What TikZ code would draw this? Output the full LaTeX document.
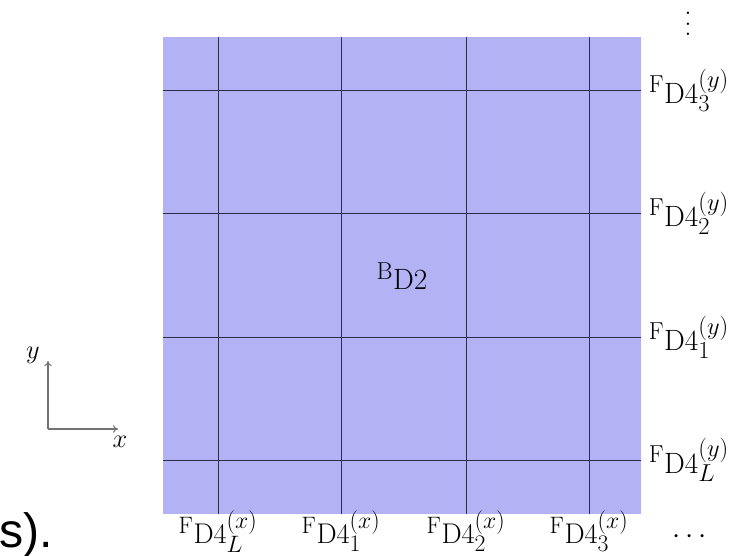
\documentclass[tikz,border=0pt]{standalone}
\usepackage{fontspec}
\newfontfamily\slidefont{Liberation Sans}
\usetikzlibrary{arrows.meta,positioning}
\definecolor{cellblue}{RGB}{178,178,245}
\definecolor{gridink}{RGB}{45,45,80}

\begin{document}
\begin{tikzpicture}[
    x=0.0277cm, y=-0.0277cm,
    facelabel/.style={font=\Huge, inner sep=0pt, scale=0.93, transform shape},
    xfacelabel/.style={facelabel, scale=0.97},
    gridline/.style={draw=gridink, line width=0.6pt},
    axis/.style={draw=black!55, line width=0.8pt, -{To[length=4pt,width=6pt]}}
]
    \useasboundingbox (0,0) rectangle (740,556);

    % block
    \fill[cellblue] (163,37) rectangle (641,514);
    \node[facelabel] (block) at (402,276) {${}^{\mathrm{B}}\mathrm{D}2$};

    % faces in x
    \coordinate (xL) at (218,514);
    \coordinate (x1) at (341,514);
    \coordinate (x2) at (466,514);
    \coordinate (x3) at (589,514);
    \draw[gridline] (xL) -- (218,37);
    \draw[gridline] (x1) -- (341,37);
    \draw[gridline] (x2) -- (466,37);
    \draw[gridline] (x3) -- (589,37);

    % faces in y
    \coordinate (yL) at (641,460);
    \coordinate (y1) at (641,337);
    \coordinate (y2) at (641,213);
    \coordinate (y3) at (641,90);
    \draw[gridline] (163,460) -- (yL);
    \draw[gridline] (163,337) -- (y1);
    \draw[gridline] (163,213) -- (y2);
    \draw[gridline] (163,90) -- (y3);

    \node[xfacelabel, below=-3pt of xL] (fxL) {${}^{\mathrm{F}}\mathrm{D}4^{(x)}_{L}$};
    \node[xfacelabel, below=-3pt of x1] (fx1) {${}^{\mathrm{F}}\mathrm{D}4^{(x)}_{1}$};
    \node[xfacelabel, below=-3pt of x2] (fx2) {${}^{\mathrm{F}}\mathrm{D}4^{(x)}_{2}$};
    \node[xfacelabel, below=-3pt of x3] (fx3) {${}^{\mathrm{F}}\mathrm{D}4^{(x)}_{3}$};
    \node[facelabel] (xmore) at (690,537) {$\cdots$};

    \node[facelabel, right=6pt of yL] (fyL) {${}^{\mathrm{F}}\mathrm{D}4^{(y)}_{L}$};
    \node[facelabel, right=6pt of y1] (fy1) {${}^{\mathrm{F}}\mathrm{D}4^{(y)}_{1}$};
    \node[facelabel, right=6pt of y2] (fy2) {${}^{\mathrm{F}}\mathrm{D}4^{(y)}_{2}$};
    \node[facelabel, right=6pt of y3] (fy3) {${}^{\mathrm{F}}\mathrm{D}4^{(y)}_{3}$};
    \node[facelabel] (ymore) at (688,24)
        {\vbox{\baselineskip=0.36em \lineskiplimit=0pt \hbox{.}\hbox{.}\hbox{.}}};

    % axes
    \coordinate (origin) at (48,429);
    \coordinate (xtip) at (118,429);
    \coordinate (ytip) at (48,361);
    \draw[axis] (origin) -- (xtip);
    \draw[axis] (origin) -- (ytip);
    \node[font=\huge, inner sep=0pt] (xname) at (120,442) {$x$};
    \node[font=\huge, inner sep=0pt] (yname) at (33,355) {$y$};

    \node[anchor=base west, inner sep=0pt, font=\slidefont\fontsize{38}{40}\selectfont] (tail) at (-1,547) {s).};
\end{tikzpicture}
\end{document}
